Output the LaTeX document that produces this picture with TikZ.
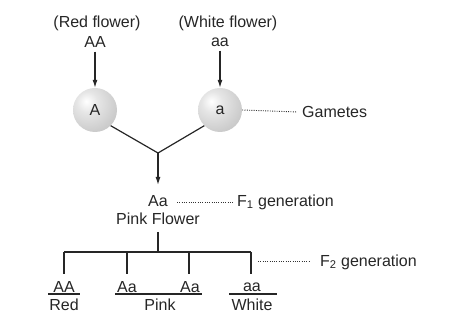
\documentclass[tikz,border=0pt]{standalone}
\usepackage{fontspec}
\setmainfont{Liberation Sans}
\usetikzlibrary{arrows.meta}
\pgfdeclareradialshading{gameteball}{\pgfpoint{-10bp}{10bp}}{color(0bp)=(white); color(12bp)=(black!10); color(35bp)=(black!22); color(55bp)=(black!32); color(100bp)=(black!32)}
\begin{document}
\begin{tikzpicture}[x=1pt,y=-1pt,
  txt/.style={inner sep=0pt, font=\fontsize{16}{18}\selectfont, text=black!85},
  ln/.style={line width=1.2pt, draw=black!85},
  arr/.style={ln, -{Latex[length=8pt,width=5pt]}},
  dots/.style={line width=0.9pt, draw=black!80, dash pattern=on 1pt off 1.3pt},
  ball/.style={circle, minimum size=44pt, inner sep=0pt, shading=gameteball, font=\fontsize{16}{18}\selectfont, text=black!85}]
\useasboundingbox (0,0) rectangle (456,336);
% parents
\node[txt] (rf) at (97,23) {(Red flower)};
\node[txt] (AA) at (95,42) {AA};
\node[txt] (wf) at (228,23) {(White flower)};
\node[txt] (aa) at (220,42) {aa};
% gametes
\node[ball] (gA) at (95,110) {A};
\node[ball] (ga) at (220,110) {a};
\draw[arr] (AA.south) ++(0,4) coordinate (aAs) -- (gA.north);
\draw[arr] (aa.south) ++(0,4) coordinate (aas) -- (ga.north);
\coordinate (gdot) at (297,112);
\node[txt, anchor=west] (gam) at (302,112) {Gametes};
\draw[dots] (ga.east) -- (gdot);
% cross
\coordinate (j) at (158,153);
\node[txt] (F1) at (158,201) {Aa};
\draw[ln] (gA.-45) -- (j) -- (ga.225);
\draw[arr] (j) -- (158,185);
\node[txt] (pf) at (158,219) {Pink Flower};
\coordinate (f1d) at (177,202);
\coordinate (f1e) at (233,202);
\draw[dots] (f1d) -- (f1e);
\node[txt, anchor=west] (f1lab) at (237,202) {F\textsubscript{1} generation};
% tree
\coordinate (bar) at (158,252);
\draw[ln] (158,232) -- (bar);
\coordinate (b1) at (64,252);
\coordinate (b2) at (127,252);
\coordinate (b3) at (189,252);
\coordinate (b4) at (251,252);
\draw[ln] (b1) -- (b4);
\coordinate (c1) at (64,274);
\coordinate (c2) at (127,274);
\coordinate (c3) at (189,274);
\coordinate (c4) at (251,274);
\draw[ln] (b1) -- (c1) (b2) -- (c2) (b3) -- (c3) (b4) -- (c4);
\coordinate (f2d) at (258,261);
\coordinate (f2e) at (310,261);
\draw[dots] (f2d) -- (f2e);
\node[txt, anchor=west] (f2lab) at (320,262) {F\textsubscript{2} generation};
% offspring
\node[txt] (o1) at (64,287) {AA};
\node[txt] (o2) at (127,287) {Aa};
\node[txt] (o3) at (190,287) {Aa};
\node[txt] (o4) at (252,287) {aa};
\draw[ln] (48,294) -- (80,294);
\draw[ln] (115,294) -- (202,294);
\draw[ln] (229,294) -- (277,294);
\node[txt] (p1) at (64,305) {Red};
\node[txt] (p2) at (160,305) {Pink};
\node[txt] (p3) at (252,305) {White};
\end{tikzpicture}
\end{document}
